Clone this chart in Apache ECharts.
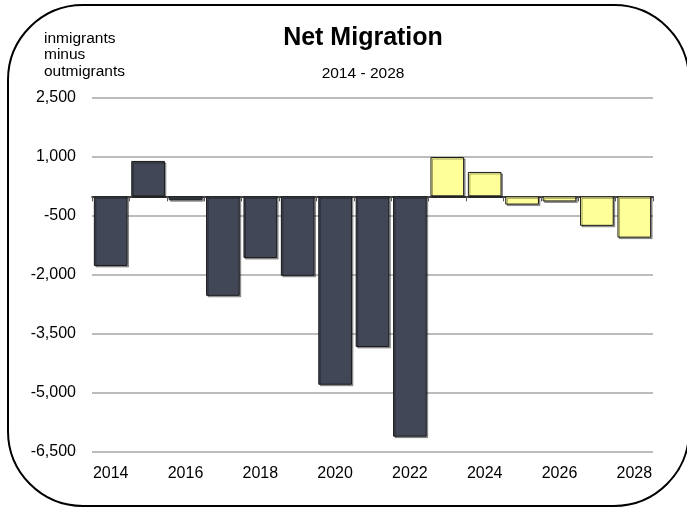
<!DOCTYPE html>
<html>
<head>
<meta charset="utf-8">
<script src="https://cdn.jsdelivr.net/npm/echarts@6/dist/echarts.min.js"></script>
<style>
html,body{margin:0;padding:0;background:#fff;}
#chart{width:687px;height:507px;}
</style>
</head>
<body>
<div id="chart"></div>
<script>
// ---- data ----
const years = ['2014','2015','2016','2017','2018','2019','2020','2021','2022','2023','2024','2025','2026','2027','2028'];
const netMigration = [-1770, 900, -100, -2530, -1570, -2020, -4790, -3830, -6110, 1000, 620, -210, -130, -750, -1050];
const firstProjectedYear = '2023';
const yTickLabels = ['-6,500','-5,000','-3,500','-2,000','-500','1,000','2,500'];
const titleText = 'Net Migration';
const subtitleText = '2014 - 2028';
const unitText = 'inmigrants\nminus\noutmigrants';

const SANS = "'Liberation Sans',Arial,sans-serif";
const projIdx = years.indexOf(firstProjectedYear);

const chart = echarts.init(document.getElementById('chart'));
chart.setOption({
  animation: false,
  backgroundColor: '#ffffff',
  title: [
    {
      text: titleText,
      subtext: subtitleText,
      left: 363, top: 26, textAlign: 'center', padding: 0,
      itemGap: 15,
      textStyle: { fontFamily: SANS, fontSize: 25, fontWeight: 'bold', color: '#000' },
      subtextStyle: { fontFamily: SANS, fontSize: 15.5, color: '#000' }
    },
    {
      text: unitText,
      left: 44, top: 30, padding: 0,
      textStyle: { fontFamily: SANS, fontSize: 15.5, fontWeight: 'normal', color: '#000', lineHeight: 16.5 }
    }
  ],
  graphic: [{
    type: 'rect',
    shape: { x: 8, y: 5, width: 681, height: 501, r: 75 },
    style: { fill: 'none', stroke: '#000', lineWidth: 2 },
    silent: true
  }],
  grid: { left: 92, right: 34, top: 98, bottom: 55, show: false },
  xAxis: [
    {
      type: 'category', data: years, position: 'bottom',
      axisLine: { show: false, onZero: false },
      axisTick: { show: false },
      splitLine: { show: false },
      axisLabel: { interval: 1, margin: 14, fontFamily: SANS, fontSize: 16, color: '#000' }
    },
    {
      type: 'category', data: years, position: 'bottom',
      axisLine: { show: true, onZero: true, lineStyle: { color: '#000', width: 1.5 } },
      axisTick: { show: true, interval: 0, length: 5, lineStyle: { color: '#555', width: 1 } },
      axisLabel: { show: false },
      splitLine: { show: false }
    }
  ],
  yAxis: {
    type: 'value', min: -6500, max: 2500, interval: 1500,
    axisLine: { show: false },
    axisTick: { show: false },
    splitLine: { show: true, lineStyle: { color: '#a6a6a6', width: 1.5 } },
    axisLabel: {
      margin: 16, fontFamily: SANS, fontSize: 16, color: '#000',
      formatter: v => v.toLocaleString('en-US')
    }
  },
  series: [{
    type: 'bar',
    data: netMigration,
    xAxisIndex: 0,
    barCategoryGap: '10%',
    itemStyle: {
      color: p => (p.dataIndex >= projIdx ? '#ffff99' : '#414756'),
      borderColor: '#1a1a1a', borderWidth: 1,
      shadowColor: 'rgba(0,0,0,0.35)', shadowOffsetX: 1.5, shadowOffsetY: 1.5, shadowBlur: 0
    }
  }]
});
</script>
</body>
</html>
